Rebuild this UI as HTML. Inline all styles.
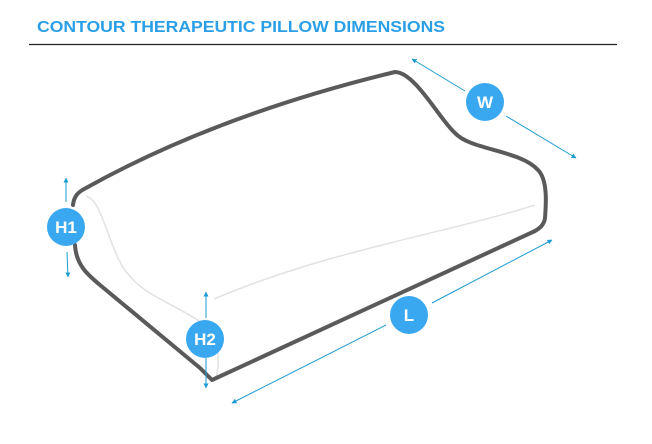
<!DOCTYPE html>
<html><head><meta charset="utf-8"><style>
html,body{margin:0;padding:0;background:#fff;}
svg{display:block;}
</style></head><body>
<svg width="652" height="444" viewBox="0 0 652 444" xmlns="http://www.w3.org/2000/svg">
<defs>
<marker id="a" viewBox="0 0 10 10" refX="9" refY="5" markerWidth="5" markerHeight="5" orient="auto-start-reverse"><path d="M0,0 L10,5 L0,10 z" fill="#1e9bd0"/></marker>
</defs>
<rect width="652" height="444" fill="#fff"/>
<text x="37" y="32" font-family="Liberation Sans, sans-serif" font-weight="bold" font-size="16" fill="#2a9fe6" textLength="408" lengthAdjust="spacingAndGlyphs">CONTOUR THERAPEUTIC PILLOW DIMENSIONS</text>
<line x1="29" y1="44.5" x2="617" y2="44.5" stroke="#222" stroke-width="1.3"/>
<g fill="none" stroke="#e2e2e2" stroke-width="1.5">
<path d="M86,196 C100,200 105,230 118,258 C135,295 170,300 205,325 C215,335 222,355 216,378"/>
<path d="M214,299 C330,250 440,235 535,205"/>
</g>
<path d="M73,205 C74,196 78,192 86,188 C190,130 300,95 395,72 C415,72 440,120 455,133 C470,150 520,150 538,170 C548,180 546,205 545,218 C544,225 540,228 535,231 L212,380 L200,368 L100,285 C88,275 76,265 75,245" fill="none" stroke="#5a5a5a" stroke-width="4" stroke-linecap="round" stroke-linejoin="round"/>
<g stroke="#1e9bd0" stroke-width="1" fill="none">
<line x1="66" y1="202" x2="66" y2="178" marker-end="url(#a)"/>
<line x1="67" y1="252" x2="68" y2="277" marker-end="url(#a)"/>
<line x1="206" y1="318" x2="206" y2="292" marker-end="url(#a)"/>
<line x1="206" y1="358" x2="206" y2="388" marker-end="url(#a)"/>
<line x1="465" y1="91" x2="412" y2="59" marker-end="url(#a)"/>
<line x1="506" y1="116" x2="576" y2="158" marker-end="url(#a)"/>
<line x1="386" y1="325" x2="232" y2="403" marker-end="url(#a)"/>
<line x1="432" y1="303" x2="552" y2="240" marker-end="url(#a)"/>
</g>
<g fill="#3aa8f0">
<circle cx="66" cy="227" r="19"/>
<circle cx="205" cy="339" r="19"/>
<circle cx="485" cy="102" r="19"/>
<circle cx="409" cy="315" r="19"/>
</g>
<g font-family="Liberation Sans, sans-serif" font-weight="bold" font-size="17" fill="#fff" text-anchor="middle">
<text x="66" y="233">H1</text>
<text x="205" y="345">H2</text>
<text x="485" y="108">W</text>
<text x="409" y="321">L</text>
</g>
</svg>
</body></html>
